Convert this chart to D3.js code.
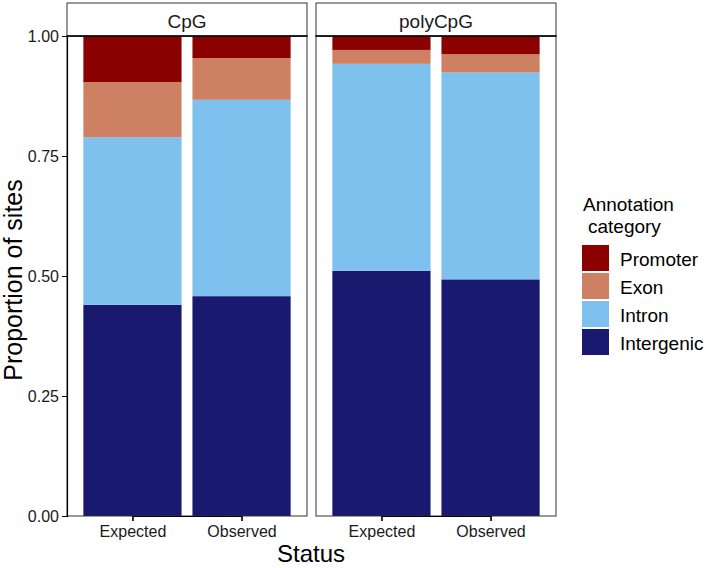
<!DOCTYPE html>
<html>
<head>
<meta charset="utf-8">
<script src="https://cdn.jsdelivr.net/npm/d3@7"></script>
<style>
  body { margin: 0; background: #fff; }
  text { font-family: Arial, "Liberation Sans", sans-serif; }
</style>
</head>
<body>
<div id="chart"></div>
<script>
// facets, x categories and annotation categories (bottom to top)
const panels = ['CpG', 'polyCpG'];
const statuses = ['Expected', 'Observed'];
const categories = ['Intergenic', 'Intron', 'Exon', 'Promoter'];
const legendOrder = ['Promoter', 'Exon', 'Intron', 'Intergenic'];
const colors = ['#191970', '#7EC0EE', '#CD8162', '#8B0000'];
const yTicks = [0, 0.25, 0.5, 0.75, 1];

// proportions per bar, in category order
const cpgExpected = [0.440, 0.349, 0.115, 0.096];
const cpgObserved = [0.458, 0.409, 0.087, 0.046];
const polyExpected = [0.511, 0.431, 0.029, 0.029];
const polyObserved = [0.493, 0.431, 0.038, 0.038];
const values = {
  CpG: [cpgExpected, cpgObserved],
  polyCpG: [polyExpected, polyObserved]
};

const width = 709;
const height = 568;
const yTop = 36, yBottom = 516;
const panelX = [67, 316];
const panelW = 240;

const svg = d3.select('#chart').append('svg')
  .attr('width', width)
  .attr('height', height);

const color = d3.scaleOrdinal().domain(categories).range(colors);
const yScale = d3.scaleLinear().domain([0, 1]).range([yBottom, yTop]);

panels.forEach((p, pi) => {
  const x0 = panelX[pi];
  // ggplot style discrete scale: expand 0.6 on each side, bar width 0.9
  const unit = panelW / 2.2;
  const xScale = d3.scalePoint()
    .domain(statuses)
    .range([x0 + unit * 0.6, x0 + unit * 1.6]);
  const g = svg.append('g');

  statuses.forEach((s, si) => {
    const stack = d3.stack().keys(d3.range(categories.length))([values[p][si]]);
    stack.forEach((layer, ci) => {
      const d = layer[0];
      g.append('rect')
        .attr('x', xScale(s) - unit * 0.45)
        .attr('width', unit * 0.9)
        .attr('y', yScale(d[1]))
        .attr('height', yScale(d[0]) - yScale(d[1]))
        .attr('fill', color(categories[ci]));
    });
  });

  // panel border
  g.append('rect')
    .attr('x', x0).attr('y', yTop)
    .attr('width', panelW).attr('height', yBottom - yTop)
    .attr('fill', 'none').attr('stroke', '#333').attr('stroke-width', 1);

  // strip
  g.append('rect')
    .attr('x', x0).attr('y', 3)
    .attr('width', panelW).attr('height', yTop - 3)
    .attr('fill', '#fff').attr('stroke', '#333').attr('stroke-width', 1);
  g.append('line')
    .attr('x1', x0 - 0.5).attr('x2', x0 + panelW + 0.5)
    .attr('y1', yTop).attr('y2', yTop)
    .attr('stroke', '#000').attr('stroke-width', 1.5);
  g.append('text')
    .attr('x', x0 + panelW / 2).attr('y', 28)
    .attr('text-anchor', 'middle')
    .style('font-size', '19px')
    .attr('fill', '#1a1a1a')
    .text(p);

  // x axis
  const xa = g.append('g')
    .attr('transform', `translate(0, ${yBottom})`)
    .call(d3.axisBottom(xScale).tickSize(5).tickPadding(4));
  xa.select('.domain').attr('stroke', '#000').attr('stroke-width', 1.2);
  xa.selectAll('.tick line').attr('stroke', '#000');
  xa.selectAll('.tick text').style('font-size', '16px').attr('fill', '#1a1a1a')
    .attr('dy', '0.72em');

  if (pi === 0) {
    const yAxis = d3.axisLeft(yScale)
      .tickValues(yTicks)
      .tickFormat(d3.format('.2f'))
      .tickSize(5).tickPadding(3);
    const ya = g.append('g')
      .attr('transform', `translate(${x0}, 0)`)
      .call(yAxis);
    ya.select('.domain').attr('stroke', '#000').attr('stroke-width', 1.2);
    ya.selectAll('.tick line').attr('stroke', '#000');
    ya.selectAll('.tick text').style('font-size', '16px').attr('fill', '#1a1a1a');
  }
});

// axis titles
svg.append('text')
  .attr('x', 311).attr('y', 562)
  .attr('text-anchor', 'middle')
  .style('font-size', '24px')
  .text('Status');
svg.append('text')
  .attr('transform', `translate(22, ${(yTop + yBottom) / 2 + 4}) rotate(-90)`)
  .attr('text-anchor', 'middle')
  .style('font-size', '25px')
  .text('Proportion of sites');

// legend
const legend = svg.append('g').attr('transform', 'translate(582, 0)');
legend.append('text')
  .attr('x', 1).attr('y', 211)
  .style('font-size', '19px')
  .text('Annotation');
legend.append('text')
  .attr('x', 6).attr('y', 233)
  .style('font-size', '19px')
  .text('category');
legendOrder.forEach((c, i) => {
  legend.append('rect')
    .attr('x', 0).attr('y', 245 + i * 28)
    .attr('width', 27).attr('height', 26)
    .attr('fill', color(c));
  legend.append('text')
    .attr('x', 38).attr('y', 245 + i * 28 + 21)
    .style('font-size', '19px')
    .text(c);
});
</script>
</body>
</html>
